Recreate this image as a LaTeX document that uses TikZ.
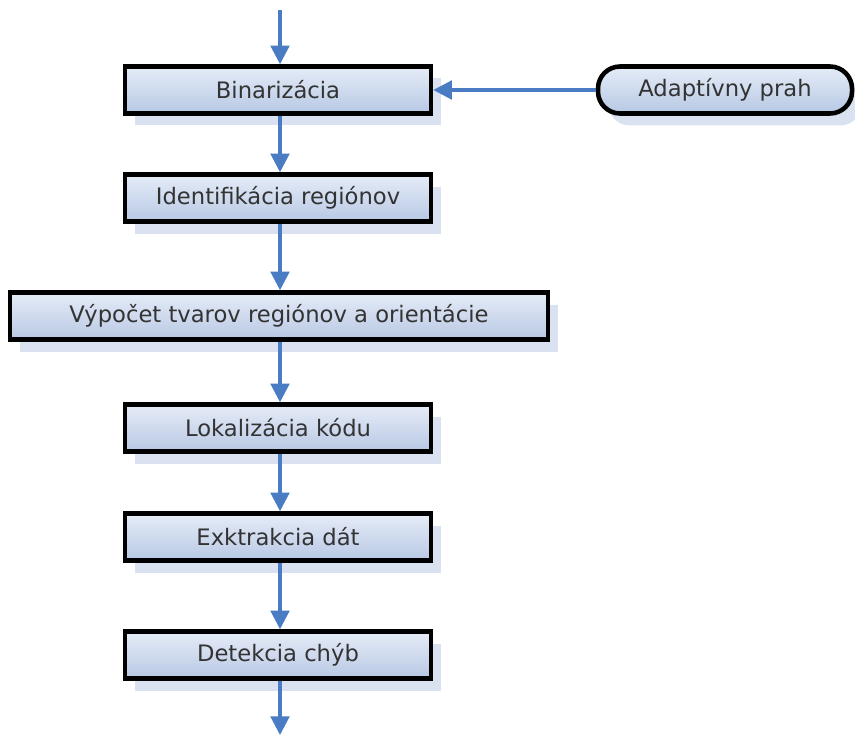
\documentclass[tikz,border=0pt]{standalone}
\usepackage{fontspec}
\setmainfont{DejaVu Sans}
\usetikzlibrary{arrows.meta,shadows}
\definecolor{arrowblue}{HTML}{4A7CC4}
\definecolor{fillA}{HTML}{E6ECF7}
\definecolor{fillB}{HTML}{B7C8E4}
\definecolor{shadowc}{HTML}{DAE2F1}
\definecolor{txt}{HTML}{333333}
\tikzset{
  procbox/.style={draw=black, line width=3.4pt, top color=fillA, bottom color=fillB,
    minimum height=47*0.75pt, inner sep=0pt, font=\fontsize{17}{19}\selectfont, text=txt,
    drop shadow={shadow xshift=10*0.75pt, shadow yshift=-12*0.75pt, fill=shadowc, opacity=1}},
  flow/.style={draw=arrowblue, line width=2.4pt, -{Triangle[width=14pt,length=14pt]}}
}
\begin{document}
\begin{tikzpicture}[x=0.75pt,y=-0.75pt]
\useasboundingbox (0,0) rectangle (855,738);
\node[procbox, minimum width=306*0.75pt] (bin) at (278,90) {Binarizácia};
\node[procbox, minimum width=306*0.75pt] (ident) at (278,198) {Identifikácia regiónov};
\node[procbox, minimum width=538*0.75pt] (vyp) at (279,316) {Výpočet tvarov regiónov a orientácie};
\node[procbox, minimum width=306*0.75pt] (lok) at (278,428) {Lokalizácia kódu};
\node[procbox, minimum width=306*0.75pt] (ext) at (278,537) {Exktrakcia dát};
\node[procbox, minimum width=306*0.75pt] (det) at (278,655) {Detekcia chýb};
\node[procbox, rounded corners=22*0.75pt, minimum width=254*0.75pt] (adp) at (725,90) {Adaptívny prah};
\coordinate (top) at (280,10);
\coordinate (bot) at (280,735);
\draw[flow] (top) -- (top |- bin.north);
\draw[flow] (bin.south -| 280,0) -- (ident.north -| 280,0);
\draw[flow] (ident.south -| 280,0) -- (vyp.north -| 280,0);
\draw[flow] (vyp.south -| 280,0) -- (lok.north -| 280,0);
\draw[flow] (lok.south -| 280,0) -- (ext.north -| 280,0);
\draw[flow] (ext.south -| 280,0) -- (det.north -| 280,0);
\draw[flow] (det.south -| 280,0) -- (bot);
\draw[flow] (adp.west) -- (adp.west -| bin.east);
\end{tikzpicture}
\end{document}
